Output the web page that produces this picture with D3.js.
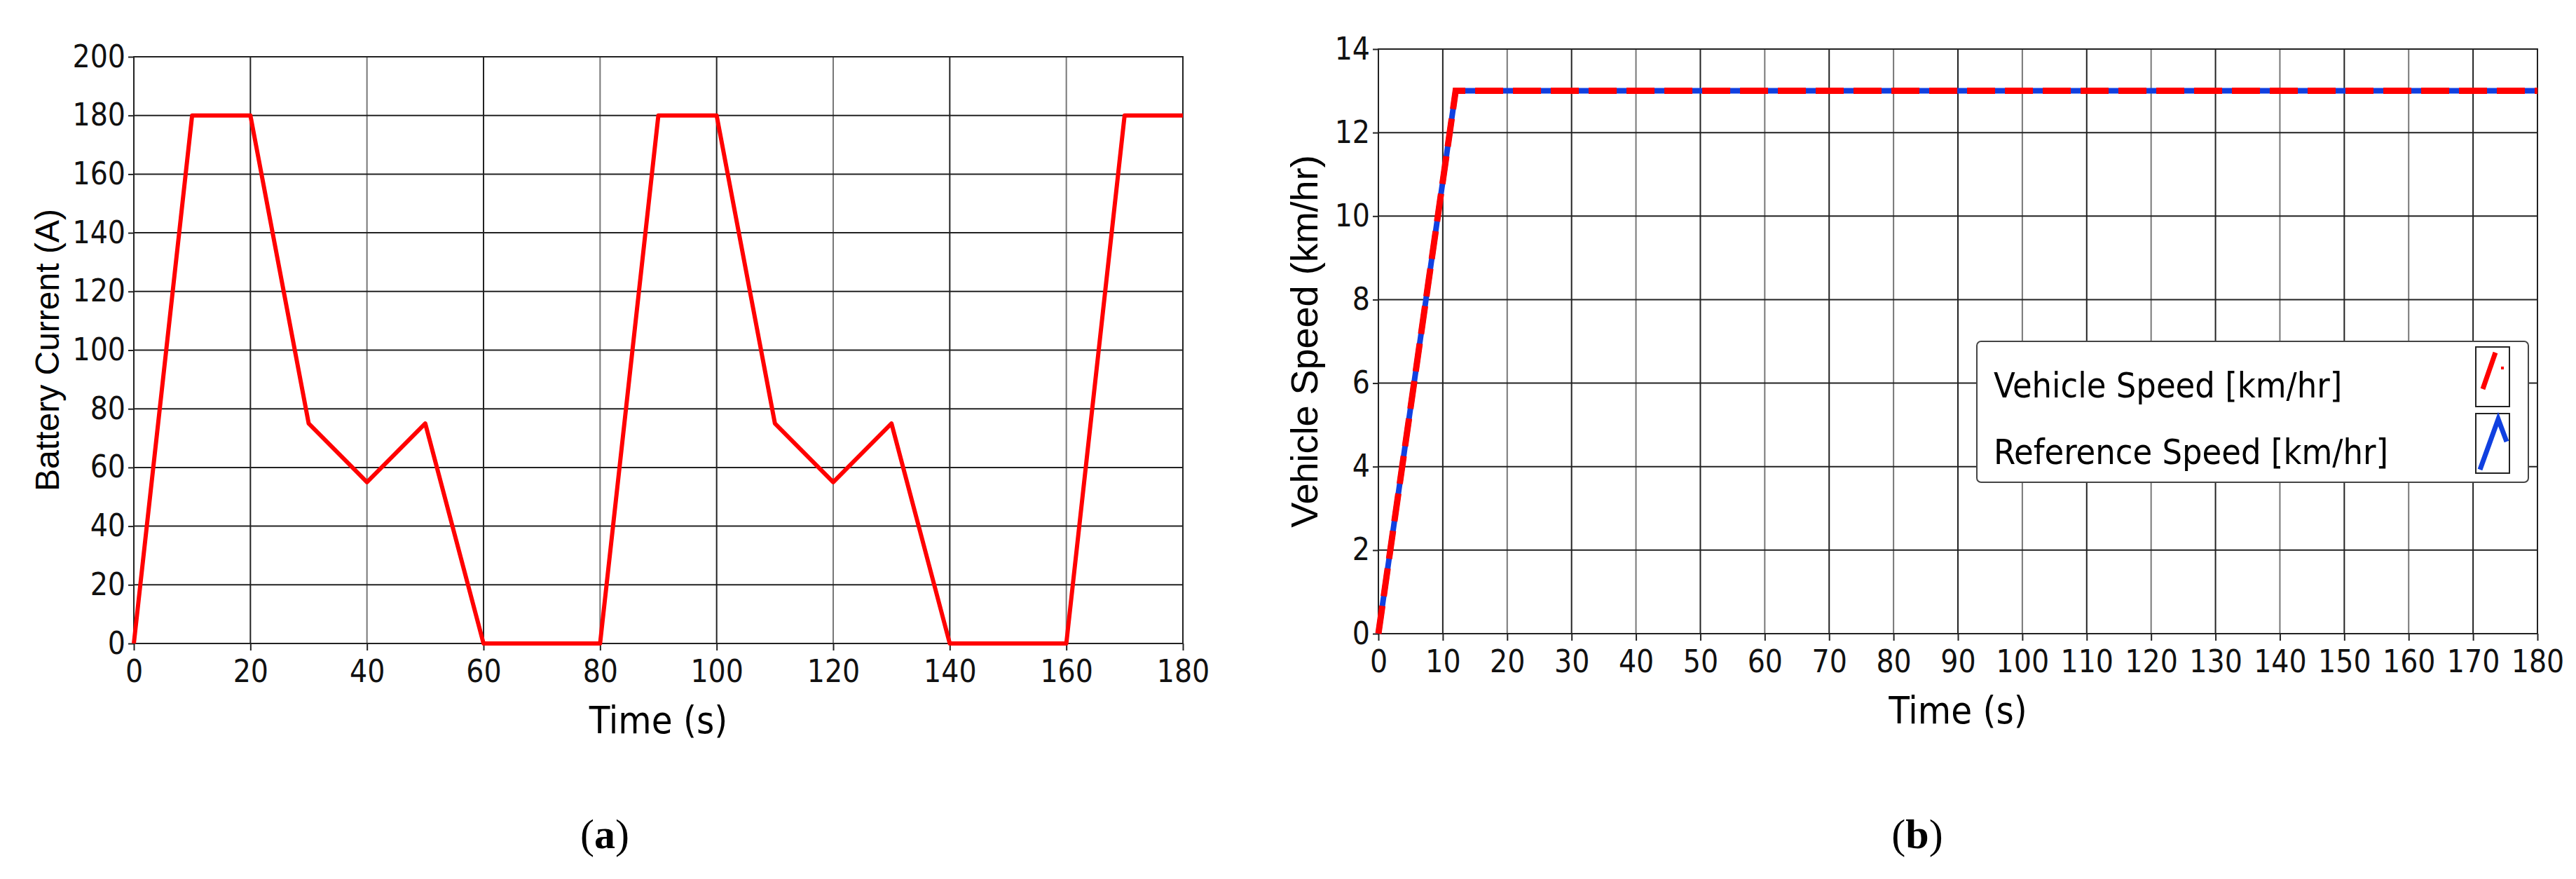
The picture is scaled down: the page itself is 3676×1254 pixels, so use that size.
<!DOCTYPE html>
<html><head><meta charset="utf-8">
<script src="https://cdn.jsdelivr.net/npm/d3@7"></script>
<style>body{margin:0;background:#fff}</style>
</head><body>
<script>
// Data
const currentTime = [0,10,20,30,40,50,60,80,90,100,110,120,130,140,160,170,180];
const currentAmps = [0,180,180,75,55,75,0,0,180,180,75,55,75,0,0,180,180];
const speedTime = [0,12,180];
const vehicleSpeed = [0,13,13];
const referenceSpeed = [0,13,13];
const xTicksA = d3.range(0,181,20), yTicksA = d3.range(0,201,20);
const xTicksB = d3.range(0,181,10), yTicksB = d3.range(0,15,2);
const legendLabels = ["Vehicle Speed [km/hr]","Reference Speed [km/hr]"];

const W = 3676, H = 1254;
const svg = d3.select("body").append("svg").attr("width",W).attr("height",H);
const tickFont = "'DejaVu Sans Condensed','Liberation Sans Narrow',sans-serif";

function panel(o) {
  const x = d3.scaleLinear().domain(o.xd).range([o.l,o.r]);
  const y = d3.scaleLinear().domain(o.yd).range([o.b,o.t]);
  const g = svg.append("g");
  // grid
  g.selectAll(".vg").data(o.xt).join("line")
    .attr("x1",d=>x(d)).attr("x2",d=>x(d)).attr("y1",o.t).attr("y2",o.b)
    .attr("stroke",(d,i)=>i%2? "#222":"#777").attr("stroke-width",2);
  g.selectAll(".hg").data(o.yt).join("line")
    .attr("y1",d=>y(d)).attr("y2",d=>y(d)).attr("x1",o.l).attr("x2",o.r)
    .attr("stroke","#222").attr("stroke-width",2);
  g.append("rect").attr("x",o.l).attr("y",o.t).attr("width",o.r-o.l).attr("height",o.b-o.t)
    .attr("fill","none").attr("stroke","#222").attr("stroke-width",2);
  // axes
  const ax = g.append("g").attr("transform",`translate(0,${o.b})`)
    .call(d3.axisBottom(x).tickValues(o.xt).tickSize(10).tickPadding(14));
  const ay = g.append("g").attr("transform",`translate(${o.l},0)`)
    .call(d3.axisLeft(y).tickValues(o.yt).tickSize(8).tickPadding(4));
  [ax,ay].forEach(a=>{
    a.select(".domain").remove();
    a.selectAll("line").attr("stroke","#222").attr("stroke-width",2);
    a.selectAll("text").attr("font-family",tickFont).attr("font-size",44).attr("fill","#111");
  });
  g.append("text").attr("x",(o.l+o.r)/2).attr("y",o.b+128).attr("text-anchor","middle")
    .attr("font-family",tickFont).attr("font-size",54).text("Time (s)");
  g.append("text").attr("transform",`translate(${o.yx},${(o.t+o.b)/2}) rotate(-90)`)
    .attr("text-anchor","middle").attr("font-family","'Liberation Sans',Arial,sans-serif")
    .attr("font-size",o.yfs).text(o.ytitle);
  g.append("text").attr("x",o.capx).attr("y",1210).attr("text-anchor","middle")
    .attr("font-family","'Liberation Serif','Times New Roman',serif").attr("font-size",60)
    .text("(").append("tspan").attr("font-weight","bold").text(o.cap)
    .select(function(){return this.parentNode;}).append("tspan").text(")");
  return {x,y,g};
}

const A = panel({l:191,r:1688,t:81,b:918,xd:[0,180],yd:[0,200],xt:xTicksA,yt:yTicksA,
  ytitle:"Battery Current (A)",yx:84,yfs:48,capx:863,cap:"a"});
A.g.append("path").datum(currentTime.map((t,i)=>[t,currentAmps[i]]))
  .attr("d",d3.line().x(d=>A.x(d[0])).y(d=>A.y(d[1])))
  .attr("fill","none").attr("stroke","#ff0000").attr("stroke-width",6).attr("stroke-linejoin","round");

const B = panel({l:1967,r:3621,t:70,b:904,xd:[0,180],yd:[0,14],xt:xTicksB,yt:yTicksB,
  ytitle:"Vehicle Speed (km/hr)",yx:1880,yfs:54,capx:2736,cap:"b"});
const sLine = d3.line().x(d=>B.x(d[0])).y(d=>B.y(d[1]));
B.g.append("path").datum(speedTime.map((t,i)=>[t,referenceSpeed[i]])).attr("d",sLine)
  .attr("fill","none").attr("stroke","#1040e0").attr("stroke-width",8);
B.g.append("path").datum(speedTime.map((t,i)=>[t,vehicleSpeed[i]])).attr("d",sLine)
  .attr("fill","none").attr("stroke","#ff0000").attr("stroke-width",9).attr("stroke-dasharray","40,14");

// legend
const lg = B.g.append("g").attr("transform","translate(2821,487)");
lg.append("rect").attr("width",787).attr("height",201).attr("rx",6)
  .attr("fill","#fff").attr("stroke","#444").attr("stroke-width",2);
legendLabels.forEach((t,i)=>{
  lg.append("text").attr("x",24).attr("y",80+i*95).attr("font-family",tickFont)
    .attr("font-size",50).text(t);
  const bx = lg.append("g").attr("transform",`translate(712,${8+i*95})`);
  bx.append("rect").attr("width",48).attr("height",85).attr("fill","#fff").attr("stroke","#222").attr("stroke-width",2);
  if (i===0) {
    bx.append("path").attr("d","M10,60 L28,8").attr("stroke","#ff0000").attr("stroke-width",7);
    bx.append("path").attr("d","M36,30 L40,30").attr("stroke","#ff0000").attr("stroke-width",4);
  } else {
    bx.append("path").attr("d","M6,80 L32,8 L44,40").attr("fill","none").attr("stroke","#1040e0").attr("stroke-width",7);
  }
});
</script>
</body></html>
